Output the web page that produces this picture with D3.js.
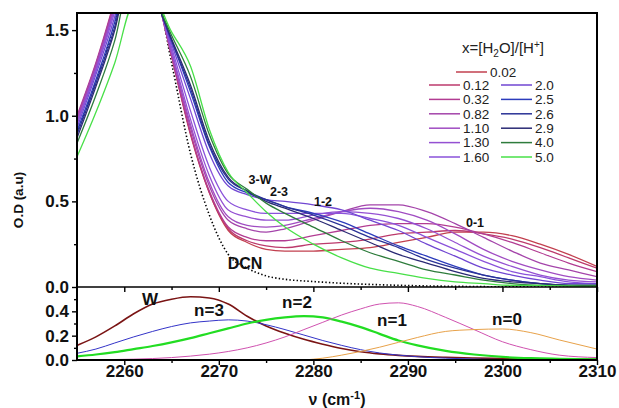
<!DOCTYPE html>
<meta charset="utf-8">
<style>
  body{ margin:0; background:#fff; }
  text{ font-family:"Liberation Sans", Arial, sans-serif; }
  .domain{ display:none; }
  .tick line{ stroke:#000; stroke-width:1.4; }
  .tick text{ font-size:17px; font-weight:bold; fill:#111; }
  .lbl{ font-weight:bold; fill:#111; }
  .leg{ font-size:13.5px; fill:#222; }
</style>
<body>
<div id="chart"></div>
<script src="https://cdn.jsdelivr.net/npm/d3@7/dist/d3.min.js"></script>
<script>

// wavenumber grid of the upper panel (cm-1)
var nu = [2255,2257,2259,2261,2263,2265,2267,2269,2271,2273,2275,2277,2280,2283,2286,2289,2292,2295,2298,2301,2304,2307,2310];

// O.D, one array per x=[H2O]/[H+]
var od002 = [0.98,1.29,1.66,2.08,1.81,1.35,0.89,0.55,0.33,0.26,0.22,0.21,0.21,0.22,0.23,0.26,0.29,0.32,0.32,0.30,0.25,0.19,0.12];
var od012 = [0.99,1.30,1.67,2.08,1.80,1.35,0.90,0.55,0.34,0.27,0.24,0.23,0.25,0.26,0.28,0.31,0.32,0.33,0.31,0.28,0.23,0.17,0.11];
var od032 = [1.00,1.31,1.68,2.10,1.80,1.35,0.90,0.56,0.35,0.29,0.27,0.27,0.30,0.33,0.36,0.37,0.37,0.35,0.31,0.26,0.20,0.14,0.09];
var od082 = [0.99,1.30,1.66,2.08,1.79,1.36,0.93,0.59,0.39,0.34,0.32,0.34,0.39,0.44,0.48,0.48,0.44,0.37,0.29,0.21,0.14,0.10,0.06];
var od110 = [0.97,1.28,1.64,2.06,1.79,1.37,0.95,0.61,0.41,0.36,0.35,0.36,0.40,0.44,0.46,0.44,0.39,0.31,0.22,0.15,0.10,0.06,0.04];
var od130 = [0.96,1.27,1.63,2.05,1.78,1.38,0.98,0.65,0.45,0.41,0.39,0.39,0.42,0.44,0.43,0.40,0.34,0.26,0.18,0.12,0.07,0.04,0.03];
var od160 = [0.95,1.26,1.61,2.04,1.77,1.40,1.03,0.70,0.50,0.45,0.43,0.43,0.43,0.43,0.40,0.36,0.29,0.22,0.15,0.09,0.06,0.03,0.02];
var od20  = [0.93,1.24,1.58,2.02,1.75,1.42,1.10,0.78,0.59,0.54,0.51,0.50,0.48,0.45,0.39,0.33,0.25,0.18,0.11,0.07,0.04,0.02,0.02];
var od25  = [0.91,1.21,1.55,2.00,1.73,1.44,1.14,0.82,0.61,0.55,0.51,0.47,0.43,0.38,0.31,0.24,0.18,0.12,0.07,0.04,0.02,0.01,0.01];
var od26  = [0.89,1.19,1.52,1.98,1.73,1.44,1.16,0.83,0.63,0.56,0.51,0.47,0.42,0.36,0.29,0.23,0.16,0.11,0.07,0.04,0.02,0.01,0.01];
var od29  = [0.87,1.17,1.50,1.95,1.72,1.45,1.18,0.85,0.64,0.56,0.50,0.46,0.40,0.33,0.26,0.19,0.14,0.09,0.05,0.03,0.02,0.01,0.01];
var od40  = [0.84,1.12,1.44,1.88,1.71,1.47,1.23,0.89,0.66,0.57,0.49,0.43,0.35,0.27,0.20,0.15,0.10,0.07,0.04,0.02,0.01,0.01,0.01];
var od50  = [0.76,1.02,1.31,1.66,1.69,1.49,1.29,0.92,0.67,0.55,0.44,0.35,0.25,0.17,0.11,0.08,0.05,0.03,0.02,0.01,0.01,0.005,0];
var dcn   = [0.90,1.20,1.54,2.00,1.84,1.31,0.78,0.42,0.19,0.11,0.065,0.045,0.032,0.022,0.015,0.01,0.006,0.004,0.002,0.001,0,0,0];

var ratios = ['0.02','0.12','0.32','0.82','1.10','1.30','1.60','2.0','2.5','2.6','2.9','4.0','5.0'];
var spectra = [od002,od012,od032,od082,od110,od130,od160,od20,od25,od26,od29,od40,od50];
var colors = ['#c2404f','#bc3a6c','#b23c92','#a444aa','#a04cc2','#9450d2','#8a52da','#7046d2','#2c3cbc','#2a3296','#2a2a74','#2e7c3c','#48e048'];

// lower panel: decomposed bands
var nuLow = [2255,2257,2259,2261,2263,2265,2267,2269,2271,2273,2275,2277,2279,2281,2283,2285,2287,2289,2291,2294,2297,2300,2303,2306,2310];
var bandW  = [0.12,0.19,0.28,0.38,0.46,0.50,0.52,0.51,0.46,0.36,0.28,0.22,0.17,0.13,0.095,0.068,0.05,0.038,0.03,0.022,0.016,0.012,0.009,0.007,0.005];
var bandN3 = [0.055,0.09,0.14,0.19,0.235,0.275,0.305,0.32,0.33,0.32,0.29,0.25,0.205,0.16,0.12,0.085,0.058,0.04,0.027,0.015,0.008,0.004,0.002,0.001,0];
var bandN2 = [0.03,0.045,0.065,0.09,0.115,0.145,0.18,0.22,0.26,0.30,0.33,0.35,0.36,0.35,0.315,0.27,0.215,0.16,0.12,0.075,0.045,0.025,0.015,0.01,0.005];
var bandN1 = [0,0.002,0.004,0.007,0.012,0.02,0.032,0.048,0.07,0.10,0.14,0.19,0.25,0.31,0.37,0.42,0.46,0.47,0.44,0.35,0.25,0.15,0.085,0.04,0.02];
var bandN0 = [null,null,null,null,null,null,null,null,null,null,null,null,0,0.015,0.04,0.07,0.105,0.145,0.185,0.235,0.25,0.255,0.225,0.165,0.09];

var bandNames = ['W','n=3','n=2','n=1','n=0'];
var bands = [bandW,bandN3,bandN2,bandN1,bandN0];
var bandColors = ['#7a1414','#3434c8','#22dd22','#d052b0','#e8a24a'];
var bandWidths = [1.6,1,2.2,1,1];

var xTicks = [2260,2270,2280,2290,2300,2310];
var xMinor = [2265,2275,2285,2295,2305];
var yTicksUp = [0,0.5,1.0,1.5];
var yMinorUp = [0.25,0.75,1.25];
var yTicksLow = [0,0.2,0.4];
var yMinorLow = [0.1,0.3,0.5];

var L = 77, R = 597, T = 13, M = 287, B = 360;

var svg = d3.select('#chart').append('svg').attr('width',619).attr('height',408);

var x = d3.scaleLinear().domain([2255,2310]).range([L,R]);
var yU = d3.scaleLinear().domain([0,1.6]).range([M,T]);
var yL = d3.scaleLinear().domain([0,0.6]).range([B,M]);

var defs = svg.append('defs');
defs.append('clipPath').attr('id','clipUp').append('rect').attr('x',L).attr('y',T).attr('width',R-L).attr('height',M-T);
defs.append('clipPath').attr('id','clipLow').append('rect').attr('x',L).attr('y',M).attr('width',R-L).attr('height',B-M);

// upper panel
var lineUp = d3.line()
  .x(function(d,i){ return x(nu[i]); })
  .y(function(d){ return yU(d); })
  .curve(d3.curveMonotoneX);

var up = svg.append('g').attr('clip-path','url(#clipUp)');
up.append('path').attr('d', lineUp(dcn))
  .attr('fill','none').attr('stroke','#000').attr('stroke-width',1.6).attr('stroke-dasharray','1.4,2.2');
up.selectAll('path.spec').data(spectra).enter().append('path')
  .attr('class','spec')
  .attr('d', lineUp)
  .attr('fill','none')
  .attr('stroke', function(d,i){ return colors[i]; })
  .attr('stroke-width',1.3);

// lower panel
var lineLow = d3.line()
  .defined(function(d){ return d != null; })
  .x(function(d,i){ return x(nuLow[i]); })
  .y(function(d){ return yL(d); })
  .curve(d3.curveMonotoneX);

var low = svg.append('g').attr('clip-path','url(#clipLow)');
low.selectAll('path.band').data(bands).enter().append('path')
  .attr('class','band')
  .attr('d', lineLow)
  .attr('fill','none')
  .attr('stroke', function(d,i){ return bandColors[i]; })
  .attr('stroke-width', function(d,i){ return bandWidths[i]; });

// axes
svg.append('g').attr('transform','translate(0,'+B+')')
  .call(d3.axisBottom(x).tickValues(xTicks).tickSize(5).tickPadding(0).tickFormat(d3.format('d')));
svg.append('g').attr('transform','translate(0,'+B+')')
  .call(d3.axisBottom(x).tickValues(xMinor).tickSize(3).tickFormat(''));
svg.append('g').attr('transform','translate(0,'+M+')')
  .call(d3.axisBottom(x).tickValues(xTicks).tickSize(5).tickFormat(''));
svg.append('g').attr('transform','translate(0,'+M+')')
  .call(d3.axisBottom(x).tickValues(xMinor).tickSize(3).tickFormat(''));

svg.append('g').attr('transform','translate('+L+',0)')
  .call(d3.axisLeft(yU).tickValues(yTicksUp).tickSize(5).tickPadding(3).tickFormat(d3.format('.1f')));
svg.append('g').attr('transform','translate('+L+',0)')
  .call(d3.axisLeft(yU).tickValues(yMinorUp).tickSize(3).tickFormat(''));
svg.append('g').attr('transform','translate('+L+',0)')
  .call(d3.axisLeft(yL).tickValues(yTicksLow).tickSize(5).tickPadding(3).tickFormat(d3.format('.1f')));
svg.append('g').attr('transform','translate('+L+',0)')
  .call(d3.axisLeft(yL).tickValues(yMinorLow).tickSize(3).tickFormat(''));

// frames
svg.append('rect').attr('x',L).attr('y',T).attr('width',R-L).attr('height',B-T)
  .attr('fill','none').attr('stroke','#000').attr('stroke-width',2);
svg.append('line').attr('x1',L).attr('x2',R).attr('y1',M).attr('y2',M)
  .attr('stroke','#000').attr('stroke-width',1.6);

// axis titles
svg.append('text').attr('class','lbl').attr('transform','translate(23,200) rotate(-90)')
  .attr('text-anchor','middle').style('font-size','13.5px').text('O.D (a.u)');

var xt = svg.append('text').attr('class','lbl').attr('x',(L+R)/2).attr('y',405)
  .attr('text-anchor','middle').style('font-size','16px');
xt.append('tspan').text('\u03bd (cm');
xt.append('tspan').attr('dy',-6).style('font-size','11px').text('-1');
xt.append('tspan').attr('dy',6).text(')');

// annotations
var notes = [['3-W',260,180],['2-3',279,192],['1-2',323,202],['0-1',475,223]];
svg.selectAll('text.note').data(notes).enter().append('text')
  .attr('class','lbl note')
  .attr('x', function(d){ return d[1]; })
  .attr('y', function(d){ return d[2]; })
  .attr('dy','0.35em').attr('text-anchor','middle')
  .style('font-size','12.5px')
  .text(function(d){ return d[0]; });

svg.append('text').attr('class','lbl').attr('x',245).attr('y',263).attr('dy','0.35em')
  .attr('text-anchor','middle').style('font-size','16px').text('DCN');

var bandLabelPos = [[150,299],[209,310],[297,302],[392,320],[507,319]];
svg.selectAll('text.band').data(bandNames).enter().append('text')
  .attr('class','lbl band')
  .attr('x', function(d,i){ return bandLabelPos[i][0]; })
  .attr('y', function(d,i){ return bandLabelPos[i][1]; })
  .attr('dy','0.35em').attr('text-anchor','middle')
  .style('font-size','17px')
  .text(function(d){ return d; });

// legend
var title = svg.append('text').attr('x',503).attr('y',53).attr('text-anchor','middle')
  .style('font-size','15px').attr('fill','#222');
title.append('tspan').text('x=[H');
title.append('tspan').attr('dy',4).style('font-size','10px').text('2');
title.append('tspan').attr('dy',-4).text('O]/[H');
title.append('tspan').attr('dy',-5).style('font-size','10px').text('+');
title.append('tspan').attr('dy',5).text(']');

var legend = svg.append('g');
ratios.forEach(function(r,i){
  var lx, ly;
  if(i === 0){ lx = 456; ly = 72; }
  else if(i <= 6){ lx = 429; ly = 85 + (i-1)*14.4; }
  else { lx = 501; ly = 85 + (i-7)*14.4; }
  legend.append('line').attr('x1',lx).attr('x2',lx+31).attr('y1',ly).attr('y2',ly)
    .attr('stroke',colors[i]).attr('stroke-width',1.5);
  legend.append('text').attr('class','leg').attr('x',lx+34).attr('y',ly).attr('dy','0.35em').text(r);
});

</script>
</body>
